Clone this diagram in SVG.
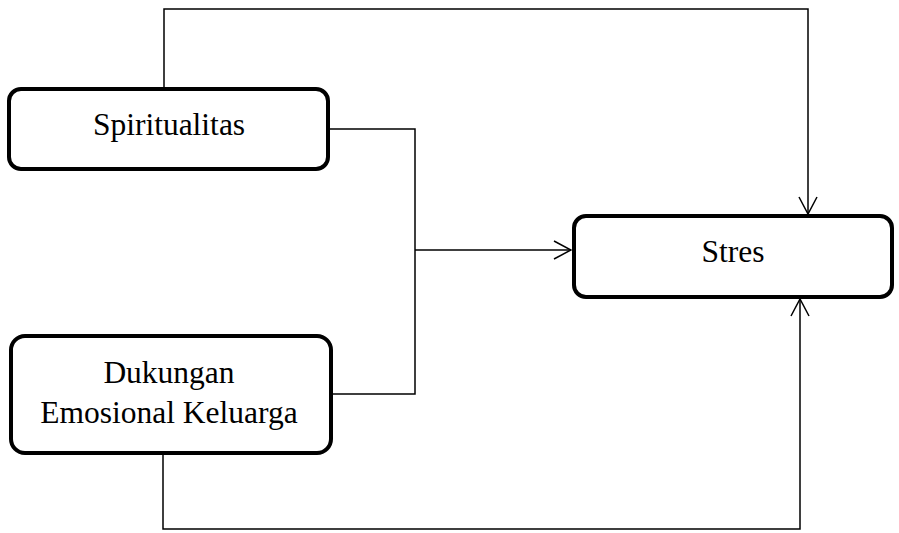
<svg xmlns="http://www.w3.org/2000/svg" width="899" height="533" viewBox="0 0 899 533">
<defs>
<marker id="arr" viewBox="0 0 20 20" refX="19" refY="10" markerWidth="20" markerHeight="20" markerUnits="userSpaceOnUse" orient="auto">
<path d="M2,1 L19,10 L2,19" fill="none" stroke="#000" stroke-width="1.5"/>
</marker>
<style>
.box{fill:#fff;stroke:#000;stroke-width:4}
.lbl{font-family:"Liberation Serif","Times New Roman",serif;font-size:31.5px;fill:#000;text-anchor:middle}
.ln{fill:none;stroke:#000;stroke-width:1.5}
</style>
</defs>
<rect width="899" height="533" fill="#fff"/>
<g id="connectors">
<polyline class="ln" points="164,89 164,9 808,9 808,214" marker-end="url(#arr)"/>
<polyline class="ln" points="330,129 415,129 415,394 330,394"/>
<line class="ln" x1="415" y1="250" x2="571" y2="250" marker-end="url(#arr)"/>
<polyline class="ln" points="163,453 163,529 800,529 800,299" marker-end="url(#arr)"/>
</g>
<g id="spiritualitas">
<rect class="box" x="9" y="89" width="319" height="80" rx="12"/>
<text class="lbl" x="169" y="135">Spiritualitas</text>
</g>
<g id="stres">
<rect class="box" x="574" y="216" width="318" height="81" rx="12"/>
<text class="lbl" x="733" y="262">Stres</text>
</g>
<g id="dukungan">
<rect class="box" x="11" y="336" width="320" height="117" rx="14"/>
<text class="lbl" x="169" y="383">Dukungan</text>
<text class="lbl" x="169" y="423">Emosional Keluarga</text>
</g>
</svg>
